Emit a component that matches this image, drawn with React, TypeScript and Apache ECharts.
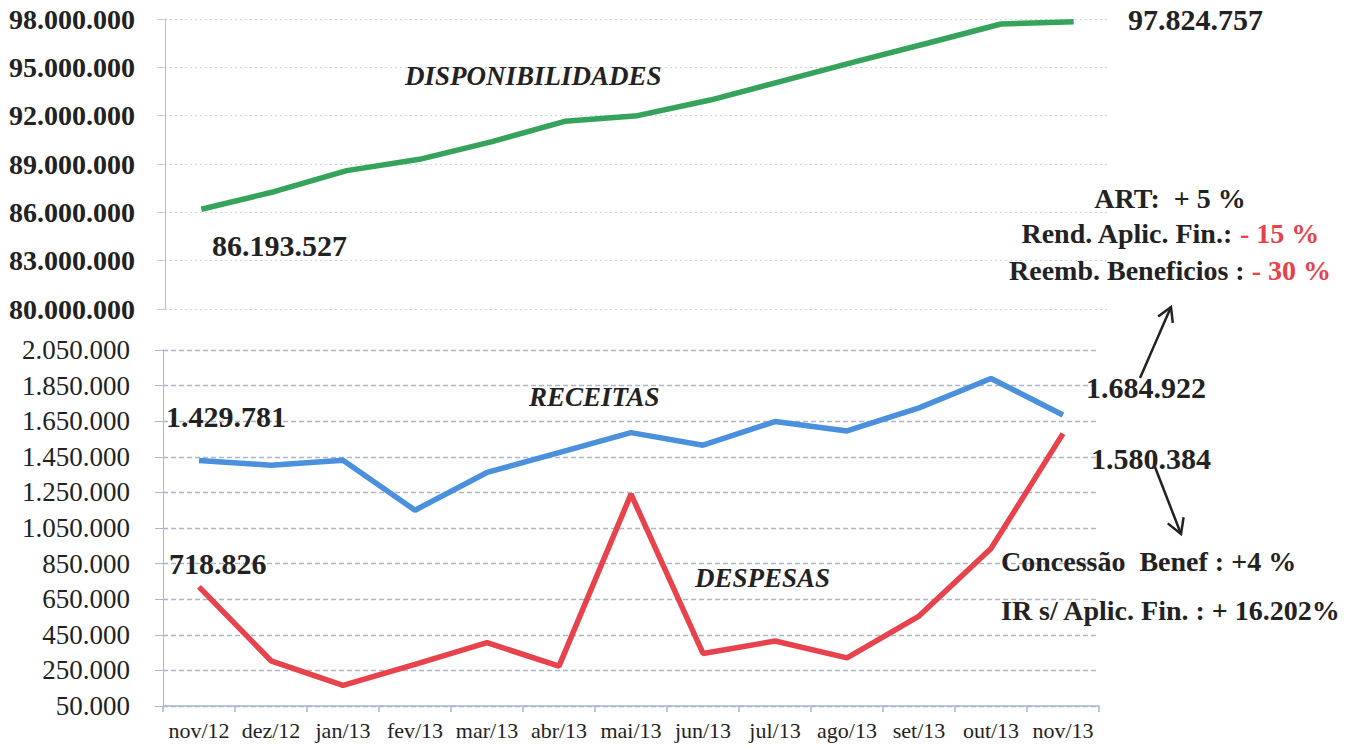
import React, { useEffect, useRef } from 'react';
import * as echarts from 'echarts';

const categories = ['nov/12', 'dez/12', 'jan/13', 'fev/13', 'mar/13', 'abr/13', 'mai/13', 'jun/13', 'jul/13', 'ago/13', 'set/13', 'out/13', 'nov/13'];
const disponibilidades = [86193527, 87280000, 88590000, 89290000, 90390000, 91650000, 92000000, 92970000, 94160000, 95350000, 96510000, 97690000, 97824757];
const receitas = [1429781, 1403000, 1431000, 1150000, 1362000, 1474000, 1586000, 1515000, 1648000, 1595000, 1725000, 1890000, 1684922];
const despesas = [718826, 304000, 166000, 284000, 406000, 274000, 1240000, 345000, 415000, 320000, 555000, 935000, 1580384];

const topTicks = { min: 80000000, max: 98000000, step: 3000000 };
const bottomTicks = { min: 50000, max: 2050000, step: 200000 };

const SERIF = '"Liberation Serif", "Times New Roman", serif';
const INK = '#222222';
const RED = '#e8414b';

const fmt = (v: number) => Math.round(v).toString().replace(/\B(?=(\d{3})+(?!\d))/g, '.');

function txt(text: string, x: number, y: number, size: number, opts: any = {}) {
  return {
    type: 'text',
    z: 100,
    style: {
      text,
      x,
      y,
      fill: INK,
      font: `${opts.italic ? 'italic ' : ''}bold ${size}px "Liberation Serif", serif`,
      textAlign: opts.align || 'left',
      textVerticalAlign: 'middle',
      align: opts.align || 'left',
      verticalAlign: 'middle',
    },
  };
}

function richTxt(black: string, red: string, x: number, y: number, size: number) {
  const base = { fontFamily: SERIF, fontWeight: 'bold', fontSize: size };
  return {
    type: 'text',
    z: 100,
    style: {
      text: `{b|${black}}{r|${red}}`,
      x,
      y,
      textAlign: 'center',
      textVerticalAlign: 'middle',
      align: 'center',
      verticalAlign: 'middle',
      rich: {
        b: { ...base, fill: INK, color: INK },
        r: { ...base, fill: RED, color: RED },
      },
    },
  };
}

function arrow(x1: number, y1: number, x2: number, y2: number, head: number) {
  const dx = x2 - x1;
  const dy = y2 - y1;
  const len = Math.sqrt(dx * dx + dy * dy);
  const ux = -dx / len;
  const uy = -dy / len;
  const a = Math.PI / 6;
  const w1 = [x2 + head * (ux * Math.cos(a) - uy * Math.sin(a)), y2 + head * (ux * Math.sin(a) + uy * Math.cos(a))];
  const w2 = [x2 + head * (ux * Math.cos(a) + uy * Math.sin(a)), y2 + head * (-ux * Math.sin(a) + uy * Math.cos(a))];
  const stroke = { stroke: '#222', lineWidth: 2.5, fill: null };
  return [
    { type: 'line', z: 100, shape: { x1, y1, x2, y2 }, style: stroke },
    { type: 'polyline', z: 100, shape: { points: [w1, [x2, y2], w2] }, style: stroke },
  ];
}

export default function App() {
  const ref = useRef<HTMLDivElement>(null);

  useEffect(() => {
    document.body.style.margin = '0';
    if (!ref.current) return;
    const chart = echarts.init(ref.current, undefined, { renderer: 'svg' });

    const option: any = {
      animation: false,
      backgroundColor: '#ffffff',
      grid: [
        { left: 165, top: 19, width: 945, height: 290 },
        { left: 163, top: 350, width: 936, height: 356 },
      ],
      xAxis: [
        { type: 'category', gridIndex: 0, data: categories, boundaryGap: true, show: false },
        {
          type: 'category',
          gridIndex: 1,
          data: categories,
          boundaryGap: true,
          axisLine: { show: true, lineStyle: { color: '#a9b6d2', width: 1.5 } },
          axisTick: { show: true, length: 6, lineStyle: { color: '#a9b6d2', width: 1.5 } },
          axisLabel: { color: INK, fontFamily: SERIF, fontSize: 22, margin: 13, interval: 0 },
        },
      ],
      yAxis: [
        {
          type: 'value',
          gridIndex: 0,
          min: 0,
          max: topTicks.max - topTicks.min,
          interval: topTicks.step,
          axisLine: { show: true, lineStyle: { color: '#b3bdd8', width: 1 } },
          axisTick: { show: true, length: 8, lineStyle: { color: '#c3cbe0' } },
          axisLabel: {
            formatter: (v: number) => fmt(v + topTicks.min),
            color: INK,
            fontFamily: SERIF,
            fontWeight: 'bold',
            fontSize: 28,
            margin: 30,
          },
          splitLine: { show: true, lineStyle: { color: '#cdd5e8', type: [2, 3], width: 1.2 } },
        },
        {
          type: 'value',
          gridIndex: 1,
          min: 0,
          max: bottomTicks.max - bottomTicks.min,
          interval: bottomTicks.step,
          axisLine: { show: true, lineStyle: { color: '#a9b6d2', width: 1 } },
          axisTick: { show: true, length: 8, lineStyle: { color: '#a9b6d2' } },
          axisLabel: {
            formatter: (v: number) => fmt(v + bottomTicks.min),
            color: INK,
            fontFamily: SERIF,
            fontSize: 27,
            margin: 33,
          },
          splitLine: { show: true, lineStyle: { color: '#adb5c8', type: [5, 3], width: 1.3 } },
        },
      ],
      series: [
        {
          name: 'DISPONIBILIDADES',
          type: 'line',
          xAxisIndex: 0,
          yAxisIndex: 0,
          data: disponibilidades.map((v) => v - topTicks.min),
          symbol: 'none',
          lineStyle: { color: '#35a35c', width: 5.5 },
        },
        {
          name: 'RECEITAS',
          type: 'line',
          xAxisIndex: 1,
          yAxisIndex: 1,
          data: receitas.map((v) => v - bottomTicks.min),
          symbol: 'none',
          lineStyle: { color: '#4a90dc', width: 5.5 },
        },
        {
          name: 'DESPESAS',
          type: 'line',
          xAxisIndex: 1,
          yAxisIndex: 1,
          data: despesas.map((v) => v - bottomTicks.min),
          symbol: 'none',
          lineStyle: { color: '#e8434c', width: 5.5 },
        },
      ],
      graphic: [
        txt('DISPONIBILIDADES', 405, 76, 27, { italic: true }),
        txt(fmt(disponibilidades[0]), 212, 245, 30),
        txt(fmt(disponibilidades[disponibilidades.length - 1]), 1128, 19, 30),
        txt('ART:  + 5 %', 1170, 198, 28, { align: 'center' }),
        richTxt('Rend. Aplic. Fin.: ', '- 15 %', 1170, 233, 28),
        richTxt('Reemb. Beneficios : ', '- 30 %', 1170, 270, 28),
        txt('RECEITAS', 529, 397, 27, { italic: true }),
        txt(fmt(receitas[0]), 166, 416, 30),
        txt(fmt(receitas[receitas.length - 1]), 1086, 387, 30),
        txt(fmt(despesas[despesas.length - 1]), 1091, 458, 30),
        txt(fmt(despesas[0]), 169, 563, 30),
        txt('DESPESAS', 695, 578, 27, { italic: true }),
        txt('Concessão  Benef : +4 %', 1001, 561, 28),
        txt('IR s/ Aplic. Fin. : + 16.202%', 1001, 610, 28),
        ...arrow(1140, 378, 1171, 307, 16),
        ...arrow(1155, 467, 1181, 534, 17),
      ],
    };

    chart.setOption(option);
    return () => chart.dispose();
  }, []);

  return <div ref={ref} style={{ width: 1356, height: 747 }} />;
}
